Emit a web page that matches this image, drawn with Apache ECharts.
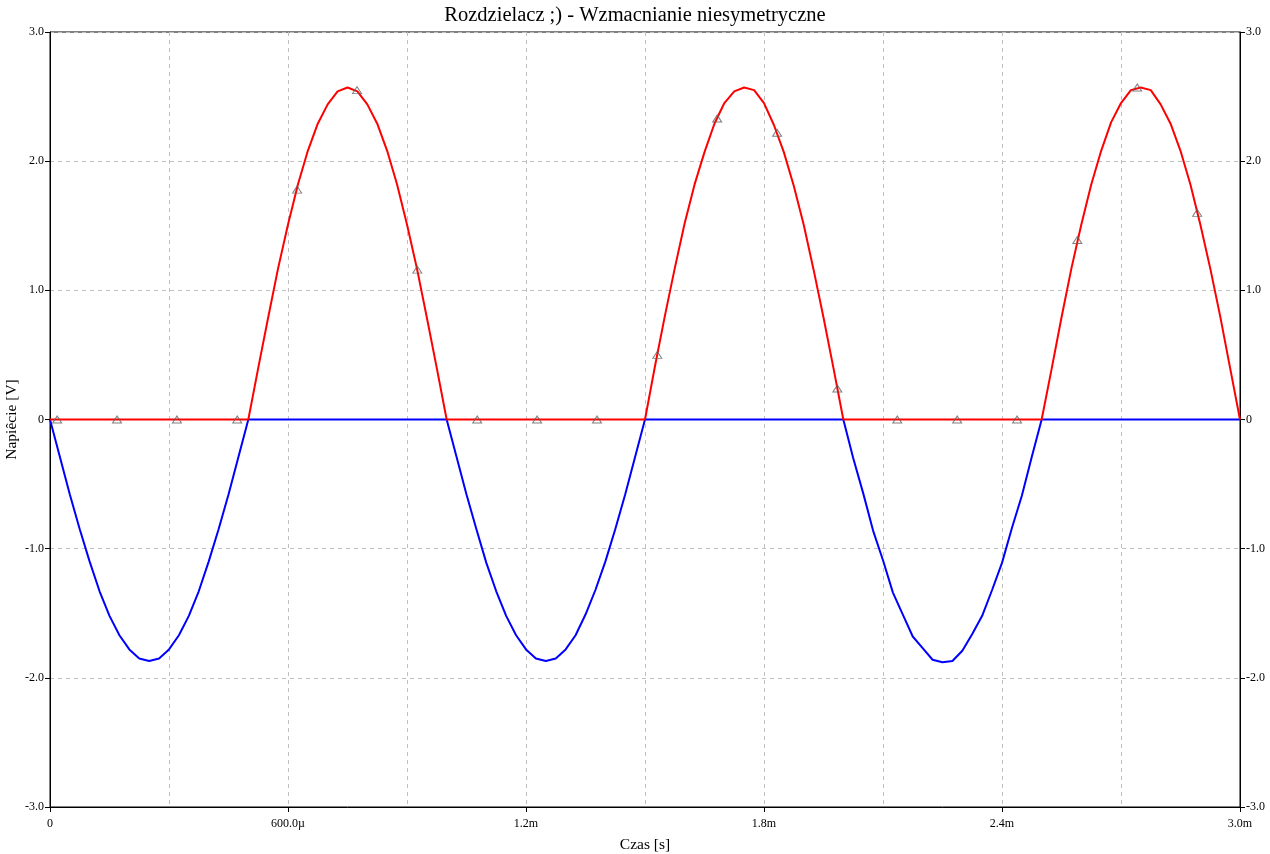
<!DOCTYPE html>
<html>
<head>
<meta charset="utf-8">
<title>Rozdzielacz</title>
<script src="https://cdn.jsdelivr.net/npm/echarts@6/dist/echarts.min.js"></script>
<style>
    html, body { margin: 0; padding: 0; background: #fff; }
    #chart { width: 1270px; height: 854px; }
</style>
</head>
<body>
<div id="chart"></div>
<script>
// krok probkowania (ms)
var tStep = 0.025;

// napiecie czerwone (gorna polowka)
var redV = [
    0, 0, 0, 0, 0, 0, 0, 0, 0, 0, 0, 0, 0, 0, 0, 0, 0, 0, 0, 0,
    0, 0.40, 0.79, 1.17, 1.51, 1.82, 2.08, 2.29, 2.44, 2.54, 2.57, 2.54, 2.44, 2.29, 2.08, 1.82, 1.51, 1.17, 0.79, 0.40, 0,
    0, 0, 0, 0, 0, 0, 0, 0, 0, 0, 0, 0, 0, 0, 0, 0, 0, 0, 0,
    0, 0.41, 0.80, 1.17, 1.52, 1.82, 2.07, 2.29, 2.45, 2.54, 2.57, 2.55, 2.45, 2.28, 2.07, 1.81, 1.51, 1.16, 0.79, 0.40, 0,
    0, 0, 0, 0, 0, 0, 0, 0, 0, 0, 0, 0, 0, 0, 0, 0, 0, 0, 0,
    0, 0.39, 0.79, 1.17, 1.51, 1.82, 2.08, 2.30, 2.45, 2.55, 2.57, 2.55, 2.44, 2.29, 2.08, 1.82, 1.51, 1.17, 0.80, 0.40, 0
];

// napiecie niebieskie (dolna polowka)
var blueV = [
    0, -0.29, -0.58, -0.85, -1.10, -1.33, -1.52, -1.67, -1.78, -1.85, -1.87, -1.85, -1.78, -1.67, -1.52, -1.33, -1.10, -0.85, -0.58, -0.29, 0,
    0, 0, 0, 0, 0, 0, 0, 0, 0, 0, 0, 0, 0, 0, 0, 0, 0, 0, 0,
    0, -0.29, -0.58, -0.85, -1.11, -1.33, -1.52, -1.67, -1.78, -1.85, -1.87, -1.85, -1.78, -1.67, -1.51, -1.32, -1.10, -0.85, -0.58, -0.29, 0,
    0, 0, 0, 0, 0, 0, 0, 0, 0, 0, 0, 0, 0, 0, 0, 0, 0, 0, 0,
    0, -0.30, -0.57, -0.86, -1.09, -1.34, -1.51, -1.68, -1.77, -1.86, -1.88, -1.87, -1.79, -1.66, -1.52, -1.32, -1.11, -0.84, -0.59, -0.29, 0,
    0, 0, 0, 0, 0, 0, 0, 0, 0, 0, 0, 0, 0, 0, 0, 0, 0, 0, 0, 0
];

// znaczniki (trojkaty) na czerwonej linii
var markerT = [0.018, 0.169, 0.320, 0.472, 0.623, 0.774, 0.926, 1.077, 1.228, 1.379,
               1.531, 1.682, 1.833, 1.985, 2.136, 2.287, 2.438, 2.590, 2.741, 2.892];
var markerV = [0, 0, 0, 0, 1.78, 2.55, 1.16, 0, 0, 0,
               0.50, 2.33, 2.22, 0.24, 0, 0, 0, 1.39, 2.57, 1.60];

// opisy osi
var xTickLabels = ['0', '600.0\u00b5', '1.2m', '1.8m', '2.4m', '3.0m'];
var yTickLabels = ['-3.0', '-2.0', '-1.0', '0', '1.0', '2.0', '3.0'];

var serif = 'Liberation Serif, Times New Roman, serif';
var gridLine = { color: '#c0c0c0', type: [4, 4], width: 1 };

function pairs(vals) {
    var out = [];
    for (var i = 0; i < vals.length; i++) {
        out.push([+(i * tStep).toFixed(3), vals[i]]);
    }
    return out;
}

var markerData = [];
for (var k = 0; k < markerT.length; k++) {
    markerData.push([markerT[k], markerV[k]]);
}

function yLabel(v) {
    return yTickLabels[Math.round(v) + 3];
}

function yAxis(pos) {
    var ax = {
        type: 'value',
        position: pos,
        min: -3,
        max: 3,
        interval: 1,
        axisLine: { show: true, onZero: false, lineStyle: { color: '#000', width: 1 } },
        axisTick: { show: true, length: 5, lineStyle: { color: '#000' } },
        axisLabel: { formatter: yLabel, color: '#000', fontFamily: serif, fontSize: 12, margin: 6 },
        splitLine: { show: false }
    };
    if (pos == 'left') {
        ax.name = 'Napi\u00eacie [V]';
        ax.nameLocation = 'middle';
        ax.nameGap = 30;
        ax.nameMoveOverlap = false;
        ax.nameTextStyle = { fontFamily: serif, fontSize: 15.5, color: '#000' };
        ax.splitLine = { show: true, lineStyle: gridLine };
    }
    return ax;
}

var myChart = echarts.init(document.getElementById('chart'));

var option = {
    animation: false,
    backgroundColor: '#fff',
    title: {
        text: 'Rozdzielacz ;) - Wzmacnianie niesymetryczne',
        left: 'center',
        top: 0,
        textStyle: { fontFamily: serif, fontSize: 20.5, fontWeight: 'normal', color: '#000' }
    },
    grid: {
        left: 50,
        right: 30,
        top: 32,
        bottom: 47,
        show: true,
        borderColor: '#000',
        borderWidth: 1,
        containLabel: false,
        outerBoundsMode: 'none'
    },
    xAxis: {
        type: 'value',
        min: 0,
        max: 3,
        interval: 0.6,
        name: 'Czas [s]',
        nameLocation: 'middle',
        nameGap: 30,
        nameMoveOverlap: false,
        nameTextStyle: { fontFamily: serif, fontSize: 15.5, color: '#000' },
        axisLine: { show: true, onZero: false, lineStyle: { color: '#000', width: 1 } },
        axisTick: { show: true, length: 5, lineStyle: { color: '#000' } },
        minorTick: { show: false, splitNumber: 2 },
        axisLabel: {
            formatter: function(v) { return xTickLabels[Math.round(v / 0.6)]; },
            color: '#000', fontFamily: serif, fontSize: 12, margin: 11
        },
        splitLine: { show: true, lineStyle: gridLine },
        minorSplitLine: { show: true, lineStyle: gridLine }
    },
    yAxis: [yAxis('left'), yAxis('right')],
    series: [
        {
            name: 'niebieski',
            type: 'line',
            data: pairs(blueV),
            showSymbol: false,
            lineStyle: { color: '#0000ff', width: 2 },
            itemStyle: { color: '#0000ff' },
            z: 3
        },
        {
            name: 'czerwony',
            type: 'line',
            data: pairs(redV),
            showSymbol: false,
            lineStyle: { color: '#ff0000', width: 2 },
            itemStyle: { color: '#ff0000' },
            z: 4
        },
        {
            name: 'znaczniki',
            type: 'scatter',
            data: markerData,
            symbol: 'triangle',
            symbolSize: [9, 7],
            itemStyle: { color: 'rgba(255,255,255,0)', borderColor: '#606060', borderWidth: 1 },
            z: 5
        }
    ]
};

myChart.setOption(option);
</script>
</body>
</html>
